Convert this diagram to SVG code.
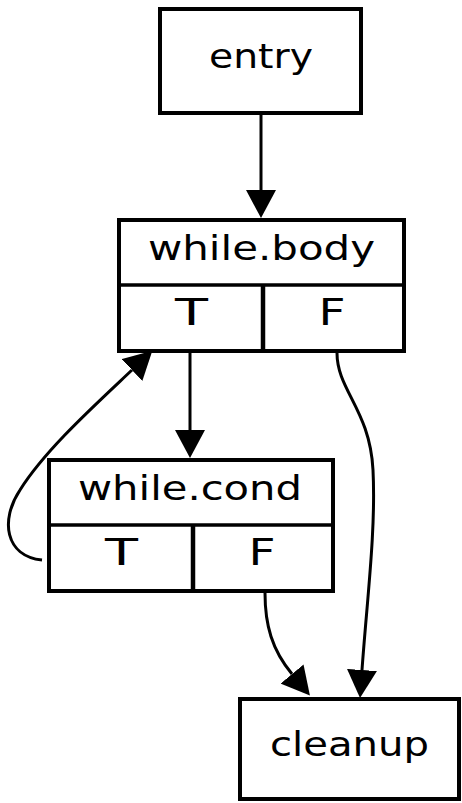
<svg xmlns="http://www.w3.org/2000/svg" width="462" height="803" viewBox="0 0 462 803">
<style>
.box{fill:#fff;stroke:#000;stroke-width:4}
.div{stroke:#000;stroke-width:3.5;fill:none}
.vdiv{stroke:#000;stroke-width:4.5;fill:none}
.lbl{font-family:"DejaVu Sans",sans-serif;font-size:34px;fill:#000;text-anchor:middle}
.port{font-family:"DejaVu Sans",sans-serif;font-size:38px;fill:#000;text-anchor:middle}
.edge{fill:none;stroke:#000;stroke-width:3}
</style>
<defs>
<marker id="ah" viewBox="0 0 28 30" refX="0" refY="15" markerWidth="28" markerHeight="30" markerUnits="userSpaceOnUse" orient="auto">
<path d="M0,0 L28,15 L0,30 z" fill="#000"/>
</marker>
</defs>
<g id="entry">
<rect class="box" x="160" y="9" width="201" height="104"/>
<text class="lbl" x="261" y="68" textLength="104" lengthAdjust="spacingAndGlyphs">entry</text>
</g>
<g id="while_body">
<rect class="box" x="119" y="220" width="285" height="131"/>
<line class="div" x1="119" y1="285" x2="404" y2="285"/>
<line class="vdiv" x1="263" y1="285" x2="263" y2="351"/>
<text class="lbl" x="261.5" y="260" textLength="227" lengthAdjust="spacingAndGlyphs">while.body</text>
<text class="port" x="191.5" y="325" textLength="33" lengthAdjust="spacingAndGlyphs">T</text>
<text class="port" x="332" y="325" textLength="27" lengthAdjust="spacingAndGlyphs">F</text>
</g>
<g id="while_cond">
<rect class="box" x="49" y="460" width="284" height="131"/>
<line class="div" x1="49" y1="525" x2="333" y2="525"/>
<line class="vdiv" x1="193" y1="525" x2="193" y2="591"/>
<text class="lbl" x="190" y="500" textLength="224" lengthAdjust="spacingAndGlyphs">while.cond</text>
<text class="port" x="121.5" y="565" textLength="33" lengthAdjust="spacingAndGlyphs">T</text>
<text class="port" x="262" y="565" textLength="27" lengthAdjust="spacingAndGlyphs">F</text>
</g>
<g id="cleanup">
<rect class="box" x="240" y="699" width="219" height="100"/>
<text class="lbl" x="349.5" y="756" textLength="159" lengthAdjust="spacingAndGlyphs">cleanup</text>
</g>
<g id="edges">
<path class="edge" d="M261,115 L261,190" marker-end="url(#ah)"/>
<path class="edge" d="M190,353 L190,430" marker-end="url(#ah)"/>
<path class="edge" d="M42,560 C5,556 0,520 20,490 C45,450 95,405 132,370" marker-end="url(#ah)"/>
<path class="edge" d="M337,353 C337,390 370,410 373,470 C376,530 367,600 362,670" marker-end="url(#ah)"/>
<path class="edge" d="M265,593 C265,625 272,650 292,674" marker-end="url(#ah)"/>
</g>
</svg>
